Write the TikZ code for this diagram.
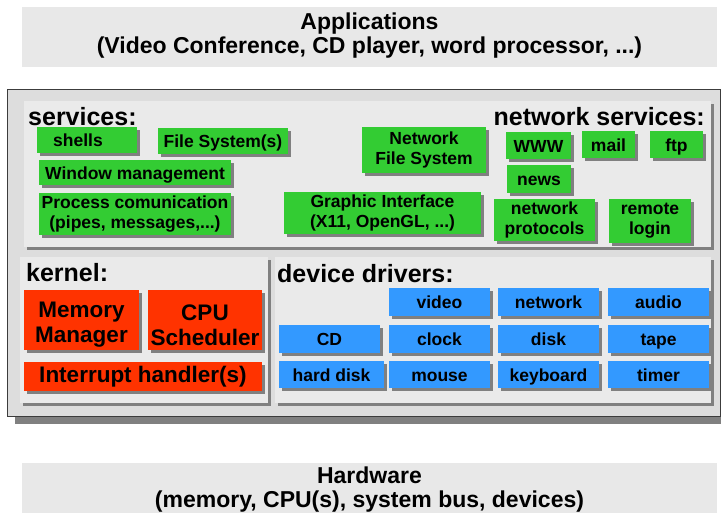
\documentclass[tikz,border=0pt]{standalone}
\usepackage{fontspec}
\setmainfont{Liberation Sans}
\usetikzlibrary{shadows}
\definecolor{gfill}{HTML}{33CC33}
\definecolor{rfill}{HTML}{FF3300}
\definecolor{bfill}{HTML}{3399FF}
\definecolor{shgray}{HTML}{808080}
\definecolor{mainfill}{HTML}{DDDDDD}
\definecolor{panelfill}{HTML}{EAEAEA}
\definecolor{bandfill}{HTML}{E8E8E8}
\definecolor{mainborder}{HTML}{3C3C3C}
\tikzset{
  sh/.style={general shadow={shadow xshift=3pt, shadow yshift=-3pt, fill=shgray}},
  base/.style={inner sep=0pt, align=center, sh},
  gbox/.style={base, fill=gfill, font=\bfseries\fontsize{17.5}{20}\selectfont},
  rbox/.style={base, fill=rfill, font=\bfseries\fontsize{22.5}{25}\selectfont},
  dbox/.style={base, fill=bfill, font=\bfseries\fontsize{17.5}{20}\selectfont},
  one/.style={text height=15pt, text depth=2pt},
  rone/.style={text height=16.4pt, text depth=4.7pt},
  panel/.style={base, fill=panelfill},
  mainbox/.style={inner sep=0pt, fill=mainfill, draw=mainborder, line width=1pt,
    general shadow={shadow xshift=8pt, shadow yshift=-8pt, fill=shgray}},
  band/.style={inner sep=0pt, fill=bandfill},
  bandtext/.style={inner sep=0pt, align=center, font=\bfseries\fontsize{23}{24}\selectfont},
  heading/.style={inner sep=0pt, font=\bfseries\fontsize{25}{28}\selectfont},
  rlabel/.style={inner sep=0pt, align=center, font=\bfseries\fontsize{22.5}{25}\selectfont, yshift=-5pt},
}
\newcommand{\bx}[7]{\node[#6, minimum width={#4-#2}, minimum height={#5-#3}] (#1) at ({(#2+#4)/2},{(#3+#5)/2}) {#7};}
\begin{document}
\begin{tikzpicture}[x=1pt, y=-1pt]
\useasboundingbox (0,0) rectangle (721,514);
% bands
\bx{apps}{22}{7}{717}{67}{band}{}
\node[bandtext] (appstext) at (369.5,36) {Applications\\(Video Conference, CD player, word processor, ...)};
\bx{hw}{22}{463}{717}{513}{band}{}
\node[bandtext] (hwtext) at (369.5,490) {Hardware\\(memory, CPU(s), system bus, devices)};
% main
\bx{main}{7}{89}{720}{416}{mainbox}{}
% panels
\bx{services}{24}{101}{711}{247}{panel}{}
\bx{kernel}{20}{257}{268}{403}{panel}{}
\bx{devices}{275}{257}{711}{403}{panel}{}
% headings
\node[heading, anchor=base west] (hserv) at (28,125) {services:};
\node[heading, anchor=base east] (hnet) at (705,125) {network services:};
\node[heading, anchor=base west] (hkern) at (26,281) {kernel:};
\node[heading, anchor=base west] (hdev) at (277,282) {device drivers:};
% services
\bx{shells}{37}{127}{137}{153}{gbox,one}{shells\hspace*{18pt}}
\bx{fs}{158}{128}{288}{154}{gbox,one}{File System(s)}
\bx{wm}{39}{160}{231}{185}{gbox,one}{Window management}
\bx{pc}{39}{193}{231}{235}{gbox}{Process comunication\\(pipes, messages,...)}
\bx{gi}{284}{192}{481}{234}{gbox}{Graphic Interface\\(X11, OpenGL, ...)}
\bx{nfs}{362}{127}{486}{173}{gbox}{Network\\File System}
\bx{www}{506}{132}{571}{159}{gbox,one}{WWW}
\bx{mail}{582}{131}{635}{158}{gbox,one}{mail}
\bx{ftp}{650}{131}{703}{158}{gbox,one}{ftp}
\bx{news}{507}{165}{571}{193}{gbox,one}{news}
\bx{np}{494}{199}{595}{241}{gbox}{network\\protocols}
\bx{rl}{609}{199}{691}{243}{gbox}{remote\\login}
% kernel
\bx{mm}{24}{290}{139}{350}{rbox, label={[rlabel]center:{Memory\\Manager}}}{}
\bx{cpu}{148}{290}{262}{350}{rbox, label={[rlabel]center:{CPU\\Scheduler}}}{}
\bx{ih}{24}{362}{262}{391}{rbox,rone}{Interrupt handler(s)}
% device drivers
\bx{video}{389}{288}{490}{316}{dbox,one}{video}
\bx{network}{498}{288}{599}{316}{dbox,one}{network}
\bx{audio}{608}{288}{709}{316}{dbox,one}{audio}
\bx{cd}{279}{325}{380}{353}{dbox,one}{CD}
\bx{clock}{389}{325}{490}{353}{dbox,one}{clock}
\bx{disk}{498}{325}{599}{353}{dbox,one}{disk}
\bx{tape}{608}{325}{709}{353}{dbox,one}{tape}
\bx{hdisk}{279}{361}{384}{388}{dbox,one}{hard disk}
\bx{mouse}{389}{361}{490}{388}{dbox,one}{mouse}
\bx{kbd}{498}{361}{599}{388}{dbox,one}{keyboard}
\bx{timer}{608}{361}{709}{388}{dbox,one}{timer}
\end{tikzpicture}
\end{document}
